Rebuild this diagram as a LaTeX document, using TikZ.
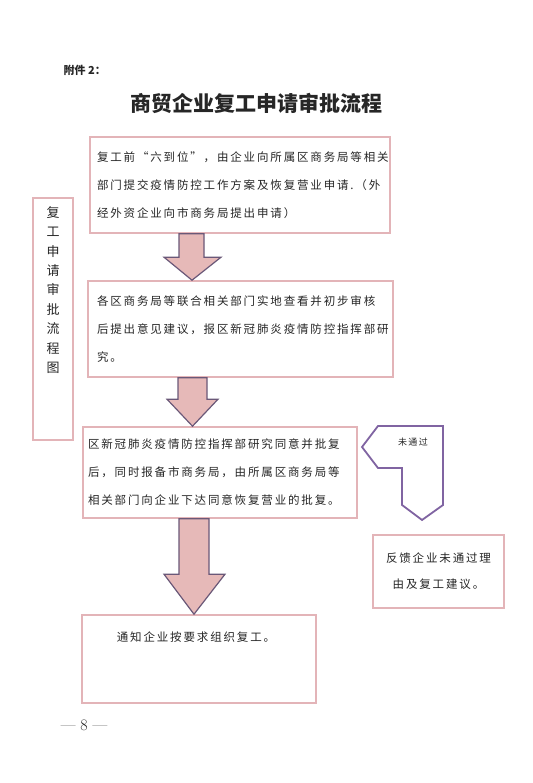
\documentclass[tikz,border=0pt]{standalone}
\usepackage{fontspec}
\usepackage{xcolor}
\usepackage{tikz}
\usetikzlibrary{calc}
\newfontfamily\cjk[LetterSpace=16]{Noto Sans CJK SC}
\newfontfamily\cjkhei{Noto Sans CJK SC}
\definecolor{boxpink}{HTML}{E3B4B8}
\definecolor{arrowfill}{HTML}{E6B9B8}
\definecolor{arrowline}{HTML}{6A5878}
\definecolor{bendpurple}{HTML}{8064A2}
\definecolor{ink}{HTML}{262626}

\begin{document}
\begin{tikzpicture}[x=1pt, y=-1pt,
  box/.style={draw=boxpink, line width=1.6pt, rectangle, inner sep=0pt},
  body/.style={text=ink, font=\cjk\fontsize{11.5}{28}\selectfont},
  fatarrow/.style={fill=arrowfill, draw=arrowline, line width=1.2pt, line join=miter},
  bentline/.style={draw=bendpurple, line width=1.8pt, line join=miter}]
\useasboundingbox[fill=white] (0,0) rectangle (532,783);

\node[anchor=west, text=ink, font=\cjkhei\bfseries\fontsize{11}{13}\selectfont] (att) at (60,70) {附件 2：};
\node[text=ink, font=\cjkhei\bfseries\fontsize{21}{24}\selectfont] (title) at (256,103) {商贸企业复工申请审批流程};

\node[box, body, minimum width=300pt, minimum height=96pt, text width=286pt, align=left] (b1) at (240,185)
  {复工前“六到位”，由企业向所属区商务局等相关\\部门提交疫情防控工作方案及恢复营业申请.（外\\经外资企业向市商务局提出申请）};
\node[box, body, minimum width=305pt, minimum height=96pt, text width=287pt, align=left] (b2) at (240.5,329)
  {各区商务局等联合相关部门实地查看并初步审核\\后提出意见建议，报区新冠肺炎疫情防控指挥部研\\究。};
\node[box, body, minimum width=274pt, minimum height=91pt, text width=264pt, align=left] (b3) at (220,472.5)
  {区新冠肺炎疫情防控指挥部研究同意并批复\\后，同时报备市商务局，由所属区商务局等\\相关部门向企业下达同意恢复营业的批复。};
\node[box, minimum width=234pt, minimum height=88pt] (b4) at (199,659) {};
\node[body] (t4) at (196,637) {通知企业按要求组织复工。};
\node[box, body, font=\cjk\fontsize{11.5}{26}\selectfont, minimum width=131pt, minimum height=73pt, text width=125pt, align=center] (b5) at (438.5,571.5)
  {反馈企业未通过理\\由及复工建议。};

% side label
\node[box, minimum width=40pt, minimum height=242pt] (side) at (53,319) {};
\node[text=ink, font=\cjk\fontsize{13}{19.4}\selectfont, align=center] (sidetxt) at (53,290)
  {复\\工\\申\\请\\审\\批\\流\\程\\图};

% block arrows
\filldraw[fatarrow] let \p1=(b1.south), \p2=(b2.north) in
  (179pt,\y1) -- (204pt,\y1) -- (204pt,\y2+23pt) -- (221pt,\y2+23pt) -- (192pt,\y2)
  -- (164pt,\y2+23pt) -- (179pt,\y2+23pt) -- cycle;
\filldraw[fatarrow] let \p1=(b2.south), \p2=(b3.north) in
  (178pt,\y1) -- (207pt,\y1) -- (207pt,\y2+27pt) -- (218pt,\y2+27pt) -- (192.5pt,\y2)
  -- (167pt,\y2+27pt) -- (178pt,\y2+27pt) -- cycle;
\filldraw[fatarrow] let \p1=(b3.south), \p2=(b4.north) in
  (179pt,\y1) -- (209pt,\y1) -- (209pt,\y2+40pt) -- (225pt,\y2+40pt) -- (194pt,\y2)
  -- (164pt,\y2+40pt) -- (179pt,\y2+40pt) -- cycle;

% not passed
\draw[bentline] (362,447) -- (378,426) -- (443,426) -- (443,505) -- (422,520)
  -- (402,505) -- (402,468) -- (378,468) -- cycle;
\node[text=ink, font=\cjk\fontsize{9}{10}\selectfont] (np) at (413,442) {未通过};

\node[text=ink, font=\fontsize{16}{18}\selectfont] (pg) at (84,725) {— 8 —};
\end{tikzpicture}
\end{document}
